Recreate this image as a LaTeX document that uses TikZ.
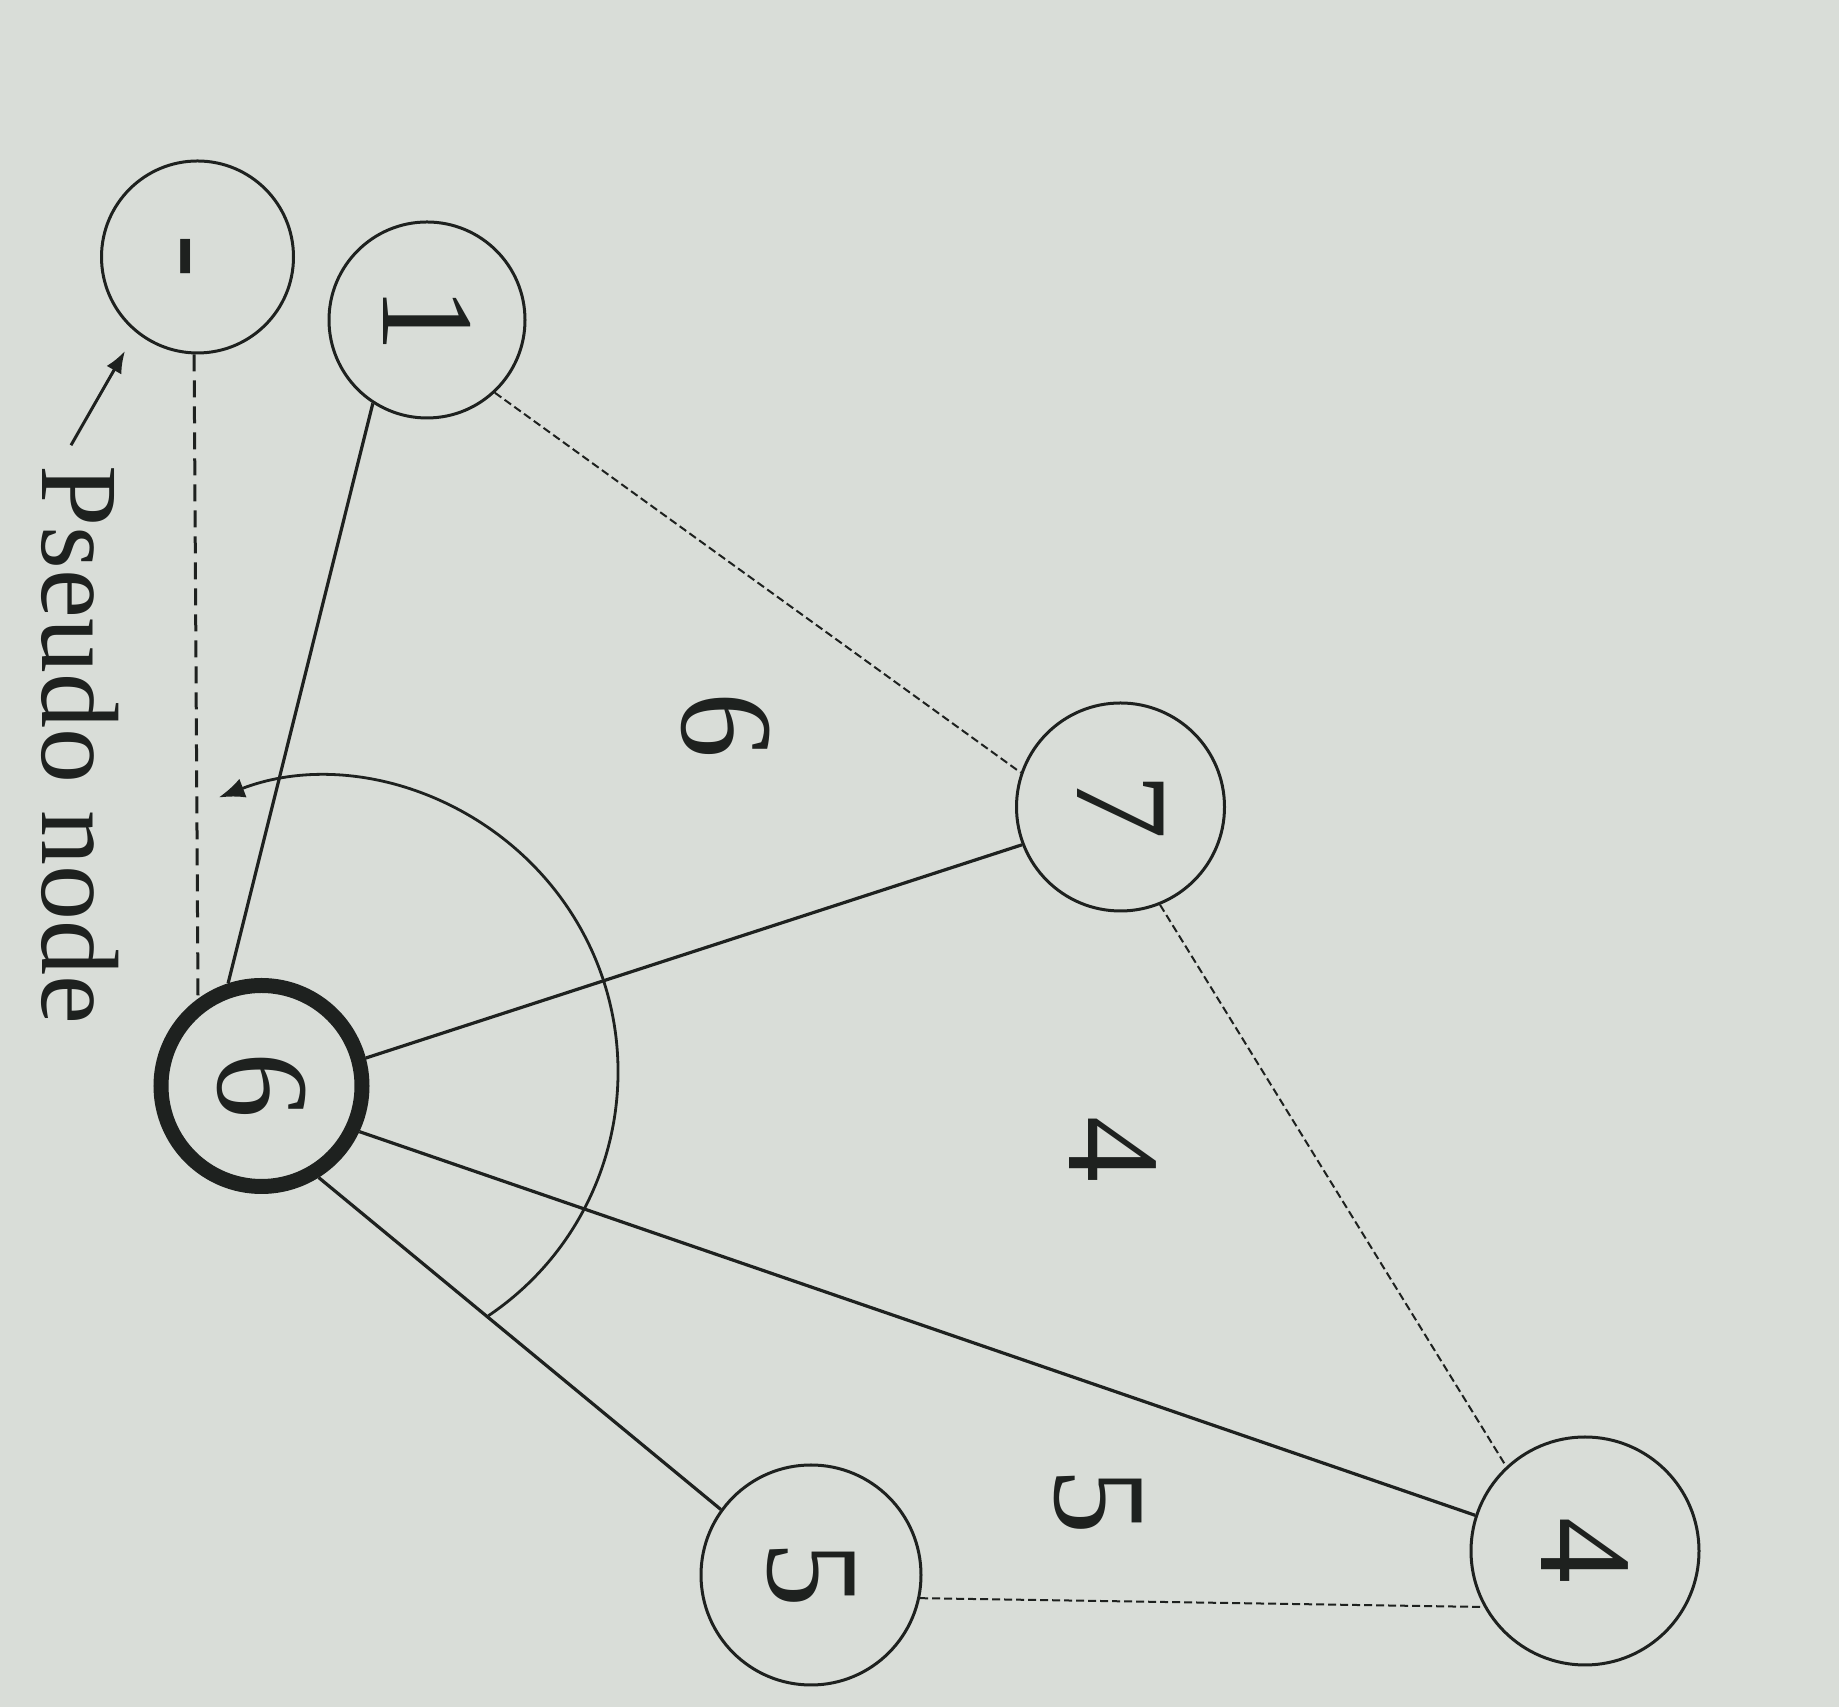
\documentclass[tikz,border=0pt]{standalone}
\usepackage{fontspec}
\setmainfont{Liberation Serif}
\usepackage{graphicx}
\usetikzlibrary{arrows.meta}
\definecolor{paper}{RGB}{217,221,216}
\definecolor{ink}{RGB}{30,33,31}
\begin{document}
\begin{tikzpicture}[x=1pt,y=1pt,
  vert/.style={circle,draw=ink,line width=3pt,inner sep=0pt,font=\fontsize{132}{140}\selectfont,text=ink},
  solidedge/.style={draw=ink,line width=3.2pt},
  fineedge/.style={draw=ink,line width=2pt,dash pattern=on 8pt off 4pt},
  pseudoedge/.style={draw=ink,line width=3pt,dash pattern=on 17pt off 9pt},
  facelbl/.style={font=\fontsize{132}{140}\selectfont,text=ink,inner sep=0pt},
  ptr/.style={draw=ink,line width=3pt,-{Latex[length=26pt,width=20pt]}}]
\fill[paper] (0,0) rectangle (1839,1707);
\useasboundingbox (0,0) rectangle (1839,1707);
% vertices
\node[vert,minimum size=192pt] (pseudo) at (197.5,1450) {\rotatebox{-90}{\vphantom{0}-}};
\node[vert,minimum size=196pt] (n1) at (427,1387) {\rotatebox{-90}{1}};
\node[vert,minimum size=208pt] (n7) at (1120.5,900) {\rotatebox{-90}{7}};
\node[vert,minimum size=201pt,line width=15pt] (n6) at (261.5,621) {\rotatebox{-90}{6}};
\node[vert,minimum size=220pt] (n5) at (811,132) {\rotatebox{-90}{5}};
\node[vert,minimum size=228pt] (n4) at (1585,156) {\rotatebox{-90}{4}};
% face labels
\node[facelbl] (f6) at (726,981) {\rotatebox{-90}{6}};
\node[facelbl] (f4) at (1113,557) {\rotatebox{-90}{4}};
\node[facelbl] (f5) at (1098,205) {\rotatebox{-90}{5}};
% pseudo node text
\node[text=ink,inner sep=0pt,font=\fontsize{110}{120}\selectfont] (ptext) at (80,962) {\rotatebox{-90}{Pseudo node}};
\coordinate (ptip) at (125,1356);
% solid edges
\draw[solidedge] (n1.237.5) -- (n6.108);
\draw[solidedge] (n6.15) -- (n7.201.6);
\draw[solidedge] (n6.-25) -- (n4.162.7);
\draw[solidedge] (n6.-58) -- (n5.144);
% dashed edges
\draw[fineedge] (n1.-47) -- (n7.161);
\draw[fineedge] (n7.-68) -- (n4.133.6);
\draw[fineedge] (n5.-12) -- (n4.209.5);
\draw[pseudoedge] (pseudo.-92) -- (n6.126);
% rotation arc
\coordinate (arcc) at (324,635);
\draw[ptr,line width=2.8pt] ([shift={(-56:294)}]arcc) arc[start angle=-56,end angle=111,radius=294];
% pointer
\draw[ptr,-{Latex[length=22pt,width=17pt]}] ([shift={(-9,20)}]ptext.north) -- (ptip);
\end{tikzpicture}
\end{document}
